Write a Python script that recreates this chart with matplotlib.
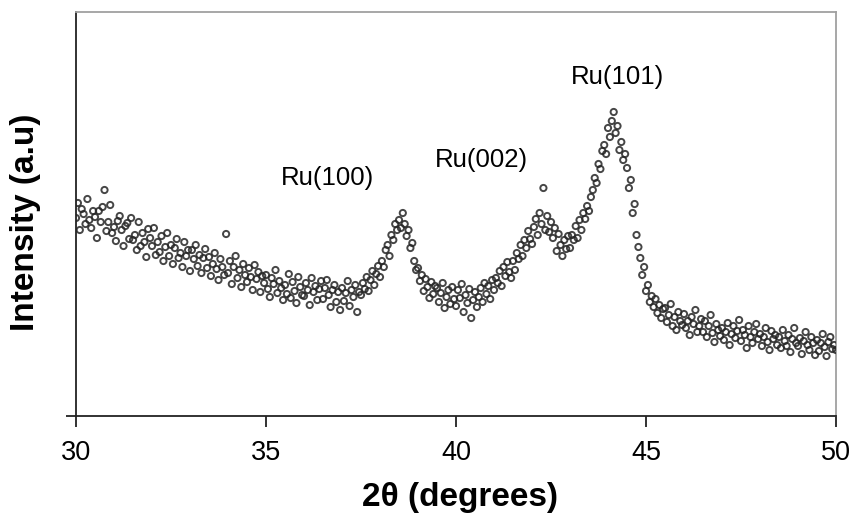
import numpy as np
import matplotlib.pyplot as plt

# XRD scan, 2theta from 30 to 50 deg, 0.05 deg step (intensity in arbitrary units)
scan_start, scan_end = 30.0, 50.0
intensity = [
    # 30.0
    198, 213, 186, 207, 202, 192, 217, 196, 188, 205,
    199, 178, 205, 194, 209, 226, 185, 194, 211, 183,
    # 31.0
    189, 175, 195, 200, 186, 170, 190, 193, 177, 198,
    176, 181, 166, 194, 170, 183, 174, 159, 187, 178,
    # 32.0
    170, 188, 161, 174, 164, 180, 155, 169, 183, 160,
    171, 152, 168, 177, 158, 163, 149, 174, 160, 166,
    # 33.0
    145, 166, 157, 171, 150, 161, 143, 158, 167, 148,
    159, 140, 152, 163, 147, 136, 157, 149, 141, 182,
    # 34.0
    143, 155, 132, 149, 160, 138, 146, 129, 152, 141,
    134, 148, 139, 126, 151, 137, 144, 124, 140, 133,
    # 35.0
    141, 127, 119, 138, 132, 146, 123, 135, 128, 116,
    131, 122, 142, 118, 134, 125, 113, 139, 129, 121,
    # 36.0
    120, 133, 126, 111, 138, 124, 130, 116, 127, 135,
    117, 128, 136, 121, 109, 126, 131, 114, 124, 106,
    # 37.0
    128, 115, 123, 135, 110, 126, 119, 131, 104, 124,
    121, 133, 127, 139, 125, 136, 145, 131, 142, 150,
    # 38.0
    139, 155, 149, 166, 171, 160, 181, 176, 192, 186,
    196, 188, 203, 192, 180, 186, 168, 173, 155, 146,
    # 39.0
    148, 135, 141, 125, 137, 129, 118, 134, 122, 130,
    128, 114, 123, 133, 108, 119, 126, 112, 129, 117,
    # 40.0
    110, 126, 118, 132, 104, 121, 113, 127, 98, 116,
    124, 109, 119, 128, 114, 133, 122, 130, 117, 136,
    # 41.0
    126, 138, 133, 145, 130, 149, 140, 154, 144, 138,
    155, 146, 163, 157, 171, 160, 176, 168, 185, 177,
    # 42.0
    172, 189, 197, 181, 203, 192, 228, 186, 200, 184,
    194, 178, 188, 165, 182, 171, 160, 176, 167, 180,
    # 43.0
    168, 181, 176, 190, 178, 196, 186, 203, 197, 210,
    205, 219, 226, 238, 233, 252, 247, 265, 271, 262,
    # 44.0
    288, 279, 295, 304, 283, 290, 266, 274, 256, 262,
    248, 228, 236, 203, 212, 181, 169, 158, 141, 149,
    # 45.0
    125, 131, 114, 120, 109, 117, 103, 111, 98, 107,
    108, 94, 101, 112, 90, 99, 86, 104, 95, 91,
    # 46.0
    102, 88, 95, 81, 99, 92, 106, 84, 90, 97,
    84, 95, 79, 90, 101, 83, 74, 92, 86, 80,
    # 47.0
    88, 76, 84, 93, 71, 82, 90, 78, 85, 96,
    75, 86, 81, 68, 90, 79, 73, 84, 92, 77,
    # 48.0
    82, 70, 79, 88, 74, 66, 85, 77, 81, 71,
    79, 68, 86, 75, 70, 81, 64, 77, 88, 73,
    # 49.0
    70, 78, 62, 75, 84, 71, 66, 79, 73, 61,
    76, 65, 73, 82, 69, 60, 74, 79, 67, 71,
    # 50.0
    66,
]

peak_labels = ["Ru(100)", "Ru(002)", "Ru(101)"]
peak_label_x = [36.63, 40.66, 44.24]
peak_label_y = [238, 256, 339]

x_ticks = [30, 35, 40, 45, 50]

two_theta = np.linspace(scan_start, scan_end, len(intensity))

fig = plt.figure(figsize=(8.55, 5.21), dpi=100)
ax = fig.add_axes([0.0889, 0.2015, 0.8889, 0.7755])

ax.scatter(two_theta, intensity, s=20, marker="o", facecolors="none",
           edgecolors="#262626", linewidths=1.4, alpha=0.85, zorder=3)

for lab, lx, ly in zip(peak_labels, peak_label_x, peak_label_y):
    ax.text(lx, ly, lab, fontsize=18.5, family="Liberation Sans",
            ha="center", va="center", color="black")

ax.set_xlim(30, 50)
ax.set_ylim(0, 404)
ax.set_xticks(x_ticks)
ax.set_xticklabels([str(t) for t in x_ticks], fontsize=19.5,
                   family="Liberation Sans")
ax.set_yticks([0])
ax.tick_params(axis="x", direction="out", length=8, width=1.3,
               color="#222222", pad=9)
ax.tick_params(axis="y", direction="out", length=7, width=1.3,
               color="#222222", labelleft=False)

for side in ("left", "bottom"):
    ax.spines[side].set_color("#222222")
    ax.spines[side].set_linewidth(1.3)
for side in ("top", "right"):
    ax.spines[side].set_color("#a0a0a0")
    ax.spines[side].set_linewidth(1.3)

fig.text(0.538, 0.046, "2θ (degrees)", fontsize=24, fontweight="bold",
         family="Liberation Sans", ha="center", va="center")
fig.text(0.030, 0.574, "Intensity (a.u)", fontsize=24, fontweight="bold",
         family="Liberation Sans", ha="center", va="center", rotation=90)

fig.savefig("out.png", dpi=100)
